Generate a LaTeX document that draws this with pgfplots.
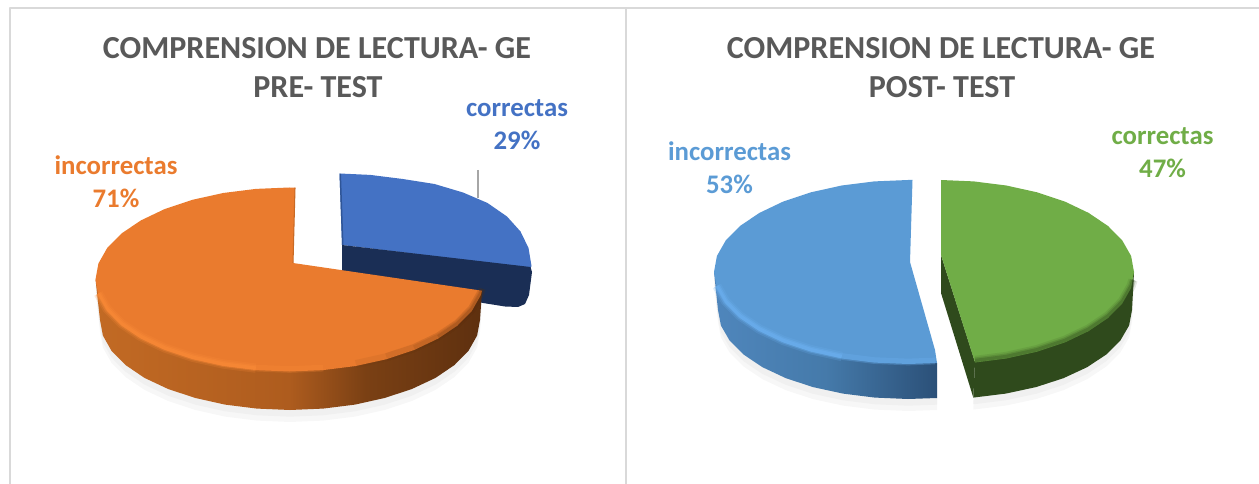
\documentclass[border=0pt]{standalone}
\usepackage{pgfplots}
\usepackage{pgfplotstable}
\usepackage{fontspec}
\setmainfont{Carlito}
\pgfplotsset{compat=1.18}

\definecolor{titlegray}{HTML}{595959}
\definecolor{framegray}{HTML}{D9D9D9}
\definecolor{cblue}{HTML}{4472C4}
\definecolor{corange}{HTML}{EA7B2E}
\definecolor{clight}{HTML}{5B9BD5}
\definecolor{cgreen}{HTML}{70AD47}
\definecolor{blueedge}{HTML}{2F5597}
\definecolor{blueface}{HTML}{1A2E55}
\definecolor{orangeedge}{HTML}{C96A25}
\definecolor{orangeglow}{HTML}{FA8B38}
\definecolor{orangeshade}{HTML}{5A2E0E}
\definecolor{leader}{HTML}{A6A6A6}
\definecolor{lightglow}{HTML}{6DB2F2}
\definecolor{greenwallc}{HTML}{2F4A1C}

% side walls of the pies, stops between 25bp and 75bp span the shape
\definecolor{os1}{HTML}{C26A24}\definecolor{os2}{HTML}{AE5C1E}\definecolor{os3}{HTML}{7A4014}\definecolor{os4}{HTML}{5E300F}
\pgfdeclarehorizontalshading{orangeside}{100bp}{color(0bp)=(os1); color(25bp)=(os1); color(50bp)=(os2); color(60bp)=(os3); color(75bp)=(os4); color(100bp)=(os4)}
\definecolor{ls1}{HTML}{4F86BC}\definecolor{ls2}{HTML}{457AAA}\definecolor{ls3}{HTML}{2B5078}
\pgfdeclarehorizontalshading{lightside}{100bp}{color(0bp)=(ls1); color(25bp)=(ls1); color(50bp)=(ls2); color(75bp)=(ls3); color(100bp)=(ls3)}

% pre-test
\pgfplotstableread{
x y
293 263
295 187.6
289.5 187.5
255.8 188.9
223.2 193
192.5 199.8
164.8 209
140.9 220.4
121.5 233.5
107.2 248
98.4 263.5
95.5 279.5
98.4 295.5
107.2 311
121.5 325.5
140.9 338.6
164.8 350
192.5 359.2
223.2 366
255.8 370.1
289.5 371.5
323.2 370.1
355.8 366
386.5 359.2
414.2 350
438.1 338.6
457.5 325.5
471.8 311
480.6 295.5
482 290.7
}\orangetop
\pgfplotstableread{
x y
95.5 279.5
100 320
102.9 335.6
111.5 350.8
125.5 365
144.5 377.9
167.9 388.9
195 397.9
225 404.6
257 408.6
290 410
323 408.6
355 404.6
385 397.9
412.1 388.9
435.5 377.9
454.5 365
468.5 350.8
477.1 335.6
480 320
482 290.7
289 279
}\orangewall
\pgfplotstableread{
x y
98.4 295.5
107.2 311
121.5 325.5
140.9 338.6
164.8 350
192.5 359.2
223.2 366
255.8 370.1
}\orangelit
\pgfplotstableread{
x y
255.8 370.1
289.5 371.5
323.2 370.1
}\orangelitfade
\pgfplotstableread{
x y
342 245
339.5 173.5
370.2 174.9
402.8 179
434.5 184
463 192.5
487.5 203
507 216.5
520.5 231.5
528.5 248
531.5 266
530.5 268
}\bluetop
\pgfplotstableread{
x y
342 245
530.5 267
532 272
529 295
525 304
518 307
505 306.5
483 303
342 273
}\bluefront

% post-test
\pgfplotstableread{
x y
910 262
912.5 180
908 180
874.3 181.4
841.7 185.5
811 192.3
783.3 201.5
759.4 212.9
740 226
725.7 240.5
716.9 256
714 272
716.9 288
725.7 303.5
740 318
759.4 331.1
783.3 342.5
811 351.7
841.7 358.5
874.3 362.6
908 364
937 363
935 350
}\lighttop
\pgfplotstableread{
x y
714 272
718 310
720.9 325.5
729.5 340.4
743.5 354.5
762.5 367.2
785.9 378.2
813 387.1
843 393.6
875 397.6
908 399
937 398
937 363
908 300
}\lightwall
\pgfplotstableread{
x y
716.9 288
725.7 303.5
740 318
759.4 331.1
783.3 342.5
811 351.7
841.7 358.5
}\lightlit
\pgfplotstableread{
x y
841.7 358.5
874.3 362.6
908 364
935 363
}\lightlitfade
\pgfplotstableread{
x y
941 255
941 180
973.7 181.4
1006.3 185.5
1037 192.3
1064.7 201.5
1088.6 212.9
1108 226
1122.3 240.5
1131.1 256
1134 272
1131.1 288
1122.3 303.5
1108 318
1088.6 331.1
1064.7 342.5
1037 351.7
1006.3 358.5
975 362.5
}\greentop
\pgfplotstableread{
x y
1134 272
1132 310
1129.1 325.5
1120.4 340.4
1106.3 354.5
1087.1 367.2
1063.4 378.2
1036 387.1
1005.7 393.6
973.3 397.6
975 362
1000 300
}\greenwall
\pgfplotstableread{
x y
941 255
975 362
973.3 397.6
941 293
}\greenface
\pgfplotstableread{
x y
1133 282
1131.1 288
1122.3 303.5
1108 318
1088.6 331.1
1064.7 342.5
1037 351.7
1006.3 358.5
975 362.5
}\greendark

\begin{document}
\begin{tikzpicture}
\begin{axis}[
    scale only axis,
    width=944.25pt, height=363pt,
    xmin=0, xmax=1259, ymin=0, ymax=484,
    y dir=reverse,
    hide axis,
    no markers,
    every axis plot/.append style={line join=round, line cap=butt},
]
% keeps the page as large as the whole axis
\addplot[draw=none] coordinates {(0,0) (1259,484)};
% frames of the two charts
\addplot[framegray, line width=1.5pt] coordinates {(9.5,484) (9.5,8) (1259,8)};
\addplot[framegray, line width=1.5pt] coordinates {(626,8) (626,484)};

% faint shadows under the pies
\addplot[draw=none, fill=black!3, yshift=-9pt] table {\orangewall};
\addplot[draw=none, fill=black!6, yshift=-5pt] table {\orangewall};
\addplot[draw=none, fill=black!3, yshift=-9pt] table {\lightwall};
\addplot[draw=none, fill=black!6, yshift=-5pt] table {\lightwall};
\addplot[draw=none, fill=black!3, yshift=-9pt] table {\greenwall};
\addplot[draw=none, fill=black!6, yshift=-5pt] table {\greenwall};

% pre-test: correctas
\addplot[draw=none, fill=cblue] table {\bluetop};
\addplot[draw=none, fill=blueedge] coordinates {(339.5,173.5) (342,245) (343.5,245) (341,174)};
\addplot[draw=none, fill=blueface] table {\bluefront};
% pre-test: incorrectas
\addplot[draw=none, shading=orangeside] table {\orangewall};
\addplot[draw=none, fill=corange] table {\orangetop};
\addplot[orangeedge, line width=0.8pt] coordinates {(295,187.6) (293,263)};
\addplot[orangeglow, line width=7pt, opacity=0.2, yshift=1.5pt] table {\orangelit};
\addplot[orangeglow, line width=4.5pt, opacity=0.35, yshift=1.5pt] table {\orangelit};
\addplot[orangeglow, line width=2.5pt, opacity=0.45, yshift=1.5pt] table {\orangelit};
\addplot[orangeglow, line width=5pt, opacity=0.25, yshift=1.5pt] table {\orangelitfade};
% the rim darkens step by step towards the right tip
\addplot[orangeshade, line width=6pt, opacity=0.07, yshift=1.5pt] coordinates {(355.8,366) (386.5,359.2) (414.2,350) (438.1,338.6) (457.5,325.5) (471.8,311) (480.6,295.5) (482,290.7)};
\addplot[orangeshade, line width=6pt, opacity=0.09, yshift=1.5pt] coordinates {(386.5,359.2) (414.2,350) (438.1,338.6) (457.5,325.5) (471.8,311) (480.6,295.5) (482,290.7)};
\addplot[orangeshade, line width=4pt, opacity=0.12, yshift=1.5pt] coordinates {(414.2,350) (438.1,338.6) (457.5,325.5) (471.8,311) (480.6,295.5) (482,290.7)};
\addplot[orangeshade, line width=2.5pt, opacity=0.18, yshift=1.5pt] coordinates {(438.1,338.6) (457.5,325.5) (471.8,311) (480.6,295.5) (482,290.7)};
\addplot[leader, line width=0.8pt] coordinates {(478,170) (478,198)};

% post-test: incorrectas
\addplot[draw=none, shading=lightside] table {\lightwall};
\addplot[draw=none, fill=clight] table {\lighttop};
\addplot[lightglow, line width=7pt, opacity=0.2, yshift=1.5pt] table {\lightlit};
\addplot[lightglow, line width=4.5pt, opacity=0.35, yshift=1.5pt] table {\lightlit};
\addplot[lightglow, line width=2.5pt, opacity=0.45, yshift=1.5pt] table {\lightlit};
\addplot[lightglow, line width=5pt, opacity=0.3, yshift=1.5pt] table {\lightlitfade};
% post-test: correctas
\addplot[draw=none, fill=greenwallc] table {\greenwall};
\addplot[draw=none, fill=greenwallc] table {\greenface};
\addplot[draw=none, fill=cgreen] table {\greentop};
\addplot[greenwallc, line width=7pt, opacity=0.12, yshift=1.5pt] table {\greendark};
\addplot[greenwallc, line width=4.5pt, opacity=0.2, yshift=1.5pt] table {\greendark};
\addplot[greenwallc, line width=2.5pt, opacity=0.3, yshift=1.5pt] table {\greendark};

% titles
\node[font=\fontsize{24.05pt}{25pt}\selectfont\bfseries, text=titlegray] at (axis cs:317,48) {COMPRENSION DE LECTURA- GE};
\node[font=\fontsize{24.05pt}{25pt}\selectfont\bfseries, text=titlegray] at (axis cs:318,87) {PRE- TEST};
\node[font=\fontsize{24.05pt}{25pt}\selectfont\bfseries, text=titlegray] at (axis cs:941,48) {COMPRENSION DE LECTURA- GE};
\node[font=\fontsize{24.05pt}{25pt}\selectfont\bfseries, text=titlegray] at (axis cs:942,87) {POST- TEST};

% data labels
\node[font=\fontsize{20.1pt}{21pt}\selectfont\bfseries, text=cblue] at (axis cs:517,108) {correctas};
\node[font=\fontsize{20.1pt}{21pt}\selectfont\bfseries, text=cblue] at (axis cs:517,140) {29\%};
\node[font=\fontsize{20.1pt}{21pt}\selectfont\bfseries, text=corange] at (axis cs:116,165) {incorrectas};
\node[font=\fontsize{20.1pt}{21pt}\selectfont\bfseries, text=corange] at (axis cs:116,198) {71\%};
\node[font=\fontsize{20.1pt}{21pt}\selectfont\bfseries, text=clight] at (axis cs:729.5,151) {incorrectas};
\node[font=\fontsize{20.1pt}{21pt}\selectfont\bfseries, text=clight] at (axis cs:729.5,184) {53\%};
\node[font=\fontsize{20.1pt}{21pt}\selectfont\bfseries, text=cgreen] at (axis cs:1162.5,136) {correctas};
\node[font=\fontsize{20.1pt}{21pt}\selectfont\bfseries, text=cgreen] at (axis cs:1162.5,168) {47\%};
\end{axis}
\end{tikzpicture}
\end{document}
